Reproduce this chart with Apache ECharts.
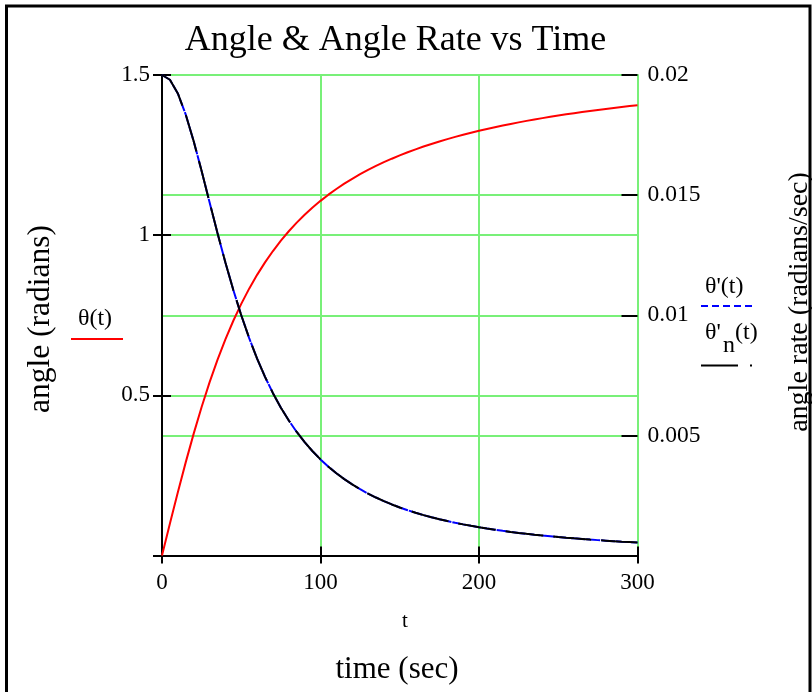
<!DOCTYPE html>
<html>
<head>
<meta charset="utf-8">
<script src="https://cdn.jsdelivr.net/npm/echarts@6/dist/echarts.min.js"></script>
<style>
html,body{margin:0;padding:0;background:#fff;}
#c{width:812px;height:692px;}
</style>
</head>
<body>
<div id="c"></div>
<script>
// time samples (sec)
var tValues = [0,5,10,15,20,25,30,35,40,45,50,55,60,65,70,75,80,85,90,95,100,
  105,110,115,120,125,130,135,140,145,150,155,160,165,170,175,180,185,190,195,200,
  205,210,215,220,225,230,235,240,245,250,255,260,265,270,275,280,285,290,295,300];
// angle theta(t), radians (left axis)
var thetaValues = [0,0.0997,0.1974,0.2915,0.3805,0.4636,0.5404,0.6107,0.6747,0.7328,0.7854,
  0.8330,0.8761,0.9151,0.9505,0.9828,1.0122,1.0391,1.0637,1.0863,1.1071,
  1.1264,1.1442,1.1607,1.1760,1.1903,1.2036,1.2161,1.2278,1.2387,1.2490,
  1.2588,1.2679,1.2766,1.2847,1.2925,1.2999,1.3068,1.3135,1.3198,1.3258,
  1.3316,1.3371,1.3423,1.3473,1.3521,1.3568,1.3612,1.3654,1.3695,1.3734,
  1.3772,1.3808,1.3843,1.3877,1.3909,1.3941,1.3971,1.4001,1.4029,1.4057];
// angle rate theta'(t), radians/sec (right axis)
var thetaDotValues = [0.02,0.019802,0.019231,0.018349,0.017241,0.016,0.014706,0.013423,0.012195,0.01105,0.01,
  0.00905,0.008197,0.007435,0.006757,0.006154,0.005618,0.005141,0.004717,0.004338,0.004,
  0.003697,0.003425,0.00318,0.002959,0.002759,0.002577,0.002413,0.002262,0.002125,0.002,
  0.001885,0.001779,0.001682,0.001592,0.001509,0.001433,0.001361,0.001295,0.001234,0.001176,
  0.001123,0.001073,0.001026,0.000982,0.000941,0.000903,0.000866,0.000832,0.0008,0.000769,
  0.00074,0.000713,0.000688,0.000663,0.00064,0.000618,0.000597,0.000577,0.000559,0.000541];
// numerical angle rate theta'_n(t) (overlaps theta'(t))
var thetaDotNValues = thetaDotValues.slice();

var xTicks = [0,100,200,300];
var leftTicks = ['0.5','1','1.5'];
var rightTicks = ['0.005','0.01','0.015','0.02'];

function pairs(xs, ys){ return xs.map(function(x,i){ return [x, ys[i]]; }); }

var FONT = '"Liberation Serif","Times New Roman",serif';
var GREEN = '#78f078';

var chart = echarts.init(document.getElementById('c'), null, {renderer:'canvas'});
var gridL = 162, gridR = 637.5, gridT = 75, gridB = 555.5;

var option = {
  animation:false,
  backgroundColor:'#fff',
  grid:{left:gridL, right:812-gridR, top:gridT, bottom:692-gridB},
  xAxis:[{
    type:'value', min:0, max:300, interval:100, position:'bottom',
    axisLine:{show:true, onZero:false, lineStyle:{color:'#000', width:2}},
    axisTick:{show:true, inside:false, length:8, lineStyle:{color:'#000', width:2}},
    axisLabel:{show:true, margin:16, color:'#000', fontFamily:FONT, fontSize:23,
      formatter:function(v){ return xTicks.indexOf(v)>=0 ? String(v) : ''; }},
    splitLine:{show:true, lineStyle:{color:GREEN, width:2}}
  },{
    type:'value', min:0, max:300, interval:100, position:'bottom', gridIndex:0,
    axisLine:{show:false, onZero:false},
    axisTick:{show:true, inside:true, length:9, lineStyle:{color:'#000', width:2}},
    axisLabel:{show:false}, splitLine:{show:false}
  }],
  yAxis:[{
    type:'value', min:0, max:1.5, interval:0.5, position:'left',
    axisLine:{show:true, onZero:false, lineStyle:{color:'#000', width:2}},
    axisTick:{show:true, inside:false, length:9, lineStyle:{color:'#000', width:2}},
    axisLabel:{show:true, margin:12, color:'#000', fontFamily:FONT, fontSize:23,
      formatter:function(v){ var s = String(v); return leftTicks.indexOf(s)>=0 ? s : ''; }},
    splitLine:{show:true, lineStyle:{color:GREEN, width:2}}
  },{
    type:'value', min:0, max:0.02, interval:0.005, position:'right',
    axisLine:{show:true, onZero:false, lineStyle:{color:GREEN, width:2}},
    axisTick:{show:true, inside:true, length:16, lineStyle:{color:'#000', width:2}},
    axisLabel:{show:true, margin:10, color:'#000', fontFamily:FONT, fontSize:23.5,
      formatter:function(v){ var s = String(+v.toFixed(4)); return rightTicks.indexOf(s)>=0 ? s : ''; }},
    splitLine:{show:true, lineStyle:{color:GREEN, width:2}}
  },{
    type:'value', min:0, max:1.5, interval:0.5, position:'left', gridIndex:0,
    axisLine:{show:false, onZero:false},
    axisTick:{show:true, inside:true, length:9, lineStyle:{color:'#000', width:2}},
    axisLabel:{show:false}, splitLine:{show:false}
  }],
  series:[{
    name:'θ(t)', type:'line', xAxisIndex:0, yAxisIndex:0, data:pairs(tValues, thetaValues),
    showSymbol:false, symbol:'none',
    lineStyle:{color:'#ff0000', width:2}, z:5
  },{
    name:"θ'(t)", type:'line', xAxisIndex:0, yAxisIndex:1, data:pairs(tValues, thetaDotValues),
    showSymbol:false, symbol:'none',
    lineStyle:{color:'#0000ff', width:2, type:[14,1]}, z:6
  },{
    name:"θ'n(t)", type:'line', xAxisIndex:0, yAxisIndex:1, data:pairs(tValues, thetaDotNValues),
    showSymbol:false, symbol:'none',
    lineStyle:{color:'#000', width:2, type:[38,10]}, z:7
  }],
  graphic:[
    // frame
    {type:'polyline', shape:{points:[[6.5,700],[6.5,6],[810,6],[810,700]]},
      style:{stroke:'#000', lineWidth:3, fill:null}, silent:true},
    // title
    {type:'text', x:395.5, y:41, style:{text:'Angle & Angle Rate vs Time', font:'36px '+FONT, fill:'#000', textAlign:'center', textVerticalAlign:'middle'}},
    // axis titles
    {type:'text', x:405, y:621, style:{text:'t', font:'21px '+FONT, fill:'#000', textAlign:'center', textVerticalAlign:'middle'}},
    {type:'text', x:397, y:670, style:{text:'time (sec)', font:'31px '+FONT, fill:'#000', textAlign:'center', textVerticalAlign:'middle'}},
    {type:'text', x:41, y:319, rotation:Math.PI/2, style:{text:'angle (radians)', font:'31.5px '+FONT, fill:'#000', textAlign:'center', textVerticalAlign:'middle'}},
    {type:'text', x:800, y:302, rotation:Math.PI/2, style:{text:'angle rate (radians/sec)', font:'28px '+FONT, fill:'#000', textAlign:'center', textVerticalAlign:'middle'}},
    // left legend
    {type:'text', x:95, y:319, style:{text:'θ(t)', font:'24px '+FONT, fill:'#000', textAlign:'center', textVerticalAlign:'middle'}},
    {type:'line', shape:{x1:71, y1:339, x2:123, y2:339}, style:{stroke:'#ff0000', lineWidth:2}},
    // right legend
    {type:'text', x:705, y:287, style:{text:"θ'(t)", font:'24px '+FONT, fill:'#000', textAlign:'left', textVerticalAlign:'middle'}},
    {type:'line', shape:{x1:701, y1:306, x2:753, y2:306}, style:{stroke:'#0000ff', lineWidth:2, lineDash:[7,4]}},
    {type:'text', x:705, y:333, style:{text:"θ'", font:'24px '+FONT, fill:'#000', textAlign:'left', textVerticalAlign:'middle'}},
    {type:'text', x:723, y:346, style:{text:'n', font:'24px '+FONT, fill:'#000', textAlign:'left', textVerticalAlign:'middle'}},
    {type:'text', x:735, y:333, style:{text:'(t)', font:'24px '+FONT, fill:'#000', textAlign:'left', textVerticalAlign:'middle'}},
    {type:'line', shape:{x1:701, y1:365.5, x2:738, y2:365.5}, style:{stroke:'#000', lineWidth:2}},
    {type:'rect', shape:{x:750, y:364.5, width:2, height:2}, style:{fill:'#000'}}
  ]
};
chart.setOption(option);
</script>
</body>
</html>
